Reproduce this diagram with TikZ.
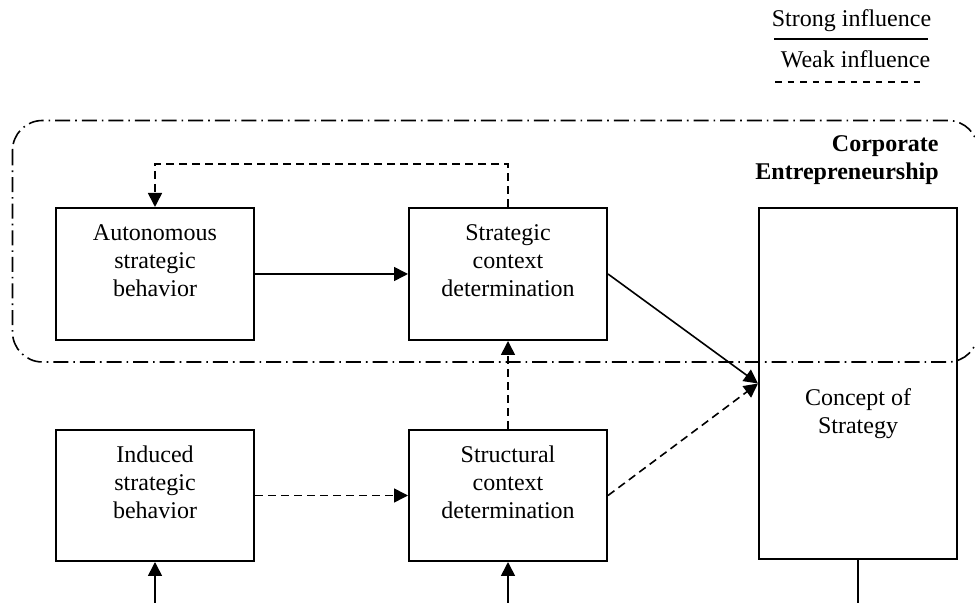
\documentclass[tikz,border=0pt]{standalone}
\usepackage{fontspec}
\setmainfont{Liberation Serif}
\usepackage{tikz}
\usetikzlibrary{arrows.meta,positioning}

\begin{document}
\begin{tikzpicture}[x=0.5pt,y=-0.5pt,font=\fontsize{12}{14}\selectfont,>={Triangle[length=7pt,width=7pt]},node distance=44pt and 76.5pt]
  \tikzset{stage/.style={draw,line width=1pt,minimum width=99pt,minimum height=66pt,inner sep=0pt},
    txt/.style={align=center,inner sep=0pt},
    strong/.style={->,line width=0.8pt},
    weak/.style={->,line width=0.8pt,dash pattern=on 4pt off 2.5pt}}
  \useasboundingbox (0,0) rectangle (975,603);
  % legend
  \node[inner sep=0pt,anchor=base] (strongkey) at (851.5,27) {Strong influence};
  \node[inner sep=0pt,anchor=base] (weakkey) at (855.5,68) {Weak influence};
  \draw[line width=1pt] (774,39) -- (928,39);
  \draw[line width=1pt,dash pattern=on 3.3pt off 3pt] (775,82) -- (922,82);
  % corporate entrepreneurship frame
  \draw[line width=0.8pt,dash pattern=on 7.5pt off 2.5pt on 0.8pt off 2.5pt,rounded corners=15pt] (12.5,120.5) rectangle (978,362);
  \node[txt,align=right,font=\fontsize{12}{14}\selectfont\bfseries,anchor=north east] (corp) at (939,135) {Corporate\\Entrepreneurship};
  % boxes
  \node[stage] (auto) at (155,274) {};
  \node[stage,right=of auto] (strat) {};
  \node[stage,below=of auto,minimum height=65.5pt] (induced) {};
  \node[stage,below=of strat,minimum height=65.5pt] (struct) {};
  \node[stage,right=75pt of strat.north east,anchor=north west,minimum height=175.5pt] (concept) {};
  \node[txt] (autotxt) at ([yshift=6.75pt]auto.center) {Autonomous\\strategic\\behavior};
  \node[txt] (strattxt) at ([yshift=6.75pt]strat.center) {Strategic\\context\\determination};
  \node[txt] (inducedtxt) at ([yshift=6.75pt]induced.center) {Induced\\strategic\\behavior};
  \node[txt] (structtxt) at ([yshift=6.75pt]struct.center) {Structural\\context\\determination};
  \node[txt] (concepttxt) at ([yshift=-15pt]concept.center) {Concept of\\Strategy};
  % influences
  \coordinate (inducedin) at (induced.south |- 0,603);
  \coordinate (structin) at (struct.south |- 0,603);
  \coordinate (conceptout) at (concept.south |- 0,603);
  \draw[strong] (auto) -- (strat);
  \draw[weak] (strat.north) -- ++(0,-43) -| (auto.north);
  \draw[strong] (strat.east) -- (concept.west);
  \draw[weak] (induced) -- (struct);
  \draw[weak] (struct) -- (strat);
  \draw[weak] (struct.east) -- (concept.west);
  \draw[strong] (inducedin) -- (induced);
  \draw[strong] (structin) -- (struct);
  \draw[line width=0.8pt] (concept.south) -- (conceptout);
\end{tikzpicture}
\end{document}
